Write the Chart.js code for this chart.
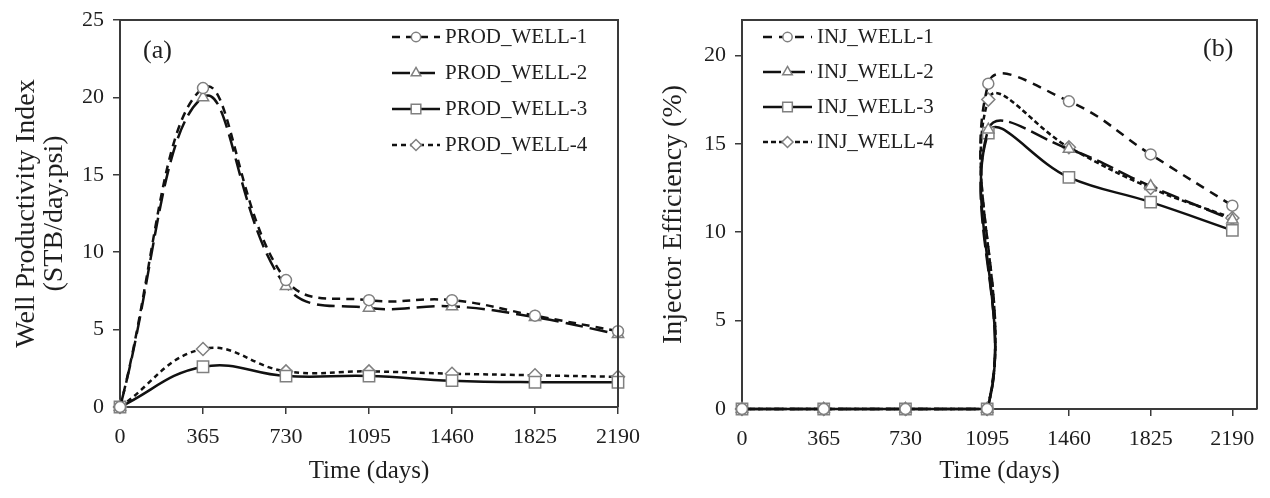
<!DOCTYPE html>
<html>
<head>
<meta charset="utf-8">
<script src="https://cdn.jsdelivr.net/npm/chart.js@4.4.1/dist/chart.umd.min.js"></script>
<style>
  html, body { margin: 0; padding: 0; background: #fff; }
  #wrap { width: 1270px; height: 498px; display: flex; }
  canvas { display: block; }
</style>
</head>
<body>
<div id="wrap">
  <canvas id="prod" width="650" height="498"></canvas>
  <canvas id="inj" width="620" height="498"></canvas>
</div>
<script>
// x values (days)
const dayTicks = [0, 365, 730, 1095, 1460, 1825, 2190];
const prodDays = [0, 365, 730, 1095, 1460, 1825, 2190];
const injDays = [0, 365, 730, 1095, 1100, 1460, 1825, 2190];

// (a) productivity index, STB/day.psi
const prodWell1 = [0, 20.6, 8.2, 6.9, 6.9, 5.9, 4.9];
const prodWell2 = [0, 20.0, 7.8, 6.4, 6.5, 5.8, 4.7];
const prodWell3 = [0, 2.6, 2.0, 2.0, 1.7, 1.6, 1.6];
const prodWell4 = [0, 3.75, 2.3, 2.3, 2.15, 2.05, 1.95];

// (b) injector efficiency, %
const injWell1 = [0, 0, 0, 0, 18.4, 17.4, 14.4, 11.5];
const injWell2 = [0, 0, 0, 0, 15.8, 14.7, 12.6, 10.7];
const injWell3 = [0, 0, 0, 0, 15.6, 13.1, 11.7, 10.1];
const injWell4 = [0, 0, 0, 0, 17.5, 14.8, 12.5, 10.8];

const prodTicksY = [0, 5, 10, 15, 20, 25];
const injTicksY = [0, 5, 10, 15, 20];

const FONT = "'Liberation Serif', 'Times New Roman', serif";
const TXT = '#1e1e1e';
const AXIS = '#3a3a3a';
const MARK = '#808080';

function pts(xs, ys) {
  return xs.map((x, i) => ({ x: x, y: ys[i] }));
}

function series(label, xs, ys, style, radius, dash) {
  return {
    label: label,
    data: pts(xs, ys),
    borderColor: '#111',
    borderWidth: 2.5,
    borderDash: dash,
    tension: 0.42,
    pointStyle: style,
    pointRadius: radius,
    pointBackgroundColor: '#fff',
    pointBorderColor: MARK,
    pointBorderWidth: 1.5,
    clip: false
  };
}

// box around the plot + legend + panel letter
const panelPlugin = {
  id: 'panel',
  afterDraw(chart, args, o) {
    const ctx = chart.ctx;
    const a = chart.chartArea;
    ctx.save();
    ctx.strokeStyle = AXIS;
    ctx.lineWidth = 2;
    ctx.beginPath();
    ctx.moveTo(a.left, a.top); ctx.lineTo(a.right, a.top); ctx.lineTo(a.right, a.bottom);
    ctx.stroke();

    ctx.font = '21px ' + FONT;
    ctx.textBaseline = 'middle';
    chart.data.datasets.forEach((ds, i) => {
      const y = o.y + i * o.gap;
      ctx.strokeStyle = ds.borderColor;
      ctx.lineWidth = ds.borderWidth;
      ctx.setLineDash(ds.borderDash || []);
      ctx.beginPath(); ctx.moveTo(o.x, y); ctx.lineTo(o.x + o.len, y); ctx.stroke();
      ctx.setLineDash([]);
      ctx.fillStyle = '#fff';
      ctx.strokeStyle = MARK;
      ctx.lineWidth = 1.5;
      Chart.helpers.drawPoint(ctx, { pointStyle: ds.pointStyle, radius: ds.pointRadius * 0.85, rotation: 0, borderWidth: 1.5 }, o.x + o.len / 2, y);
      ctx.fillStyle = TXT;
      ctx.fillText(ds.label, o.x + o.len + 5, y);
    });

    ctx.font = '26px ' + FONT;
    ctx.fillStyle = TXT;
    ctx.fillText(o.letter, o.lx, o.ly);
    ctx.restore();
  }
};

function makeChart(el, datasets, cfg) {
  return new Chart(document.getElementById(el), {
    type: 'line',
    data: { datasets: datasets },
    plugins: [panelPlugin],
    options: {
      responsive: false,
      animation: false,
      layout: { padding: { top: 20, right: cfg.padRight, left: 0, bottom: 0 } },
      plugins: {
        legend: { display: false },
        tooltip: { enabled: false },
        panel: cfg.panel
      },
      scales: {
        x: {
          type: 'linear',
          min: 0,
          max: cfg.xMax,
          afterBuildTicks: s => { s.ticks = dayTicks.map(v => ({ value: v })); },
          afterFit: s => { s.height = cfg.xH; s.paddingLeft = 0; s.paddingRight = 0; },
          grid: { drawOnChartArea: false, drawTicks: true, tickLength: 7, color: AXIS, lineWidth: 1.5 },
          border: { display: true, color: AXIS, width: 2 },
          ticks: { font: { family: FONT, size: 22 }, color: TXT, padding: 10, maxRotation: 0, autoSkip: false, callback: v => String(v) },
          title: { display: true, text: 'Time (days)', color: TXT, font: { family: FONT, size: 25 }, padding: { bottom: 12 } }
        },
        y: {
          min: 0,
          max: cfg.yMax,
          afterBuildTicks: s => { s.ticks = cfg.yTicks.map(v => ({ value: v })); },
          afterFit: s => { s.width = cfg.yW; s.paddingTop = 0; s.paddingBottom = 0; },
          grid: { drawOnChartArea: false, drawTicks: true, tickLength: 7, color: AXIS, lineWidth: 1.5 },
          border: { display: true, color: AXIS, width: 2 },
          ticks: { font: { family: FONT, size: 22 }, color: TXT, padding: 9, callback: v => String(v) },
          title: { display: true, text: cfg.yTitle, color: TXT, font: { family: FONT, size: 28, lineHeight: 1.0 }, padding: { top: cfg.yTitlePad } }
        }
      }
    }
  });
}

const prodChart = makeChart('prod', [
  series('PROD_WELL-1', prodDays, prodWell1, 'circle', 5.5, [8, 6]),
  series('PROD_WELL-2', prodDays, prodWell2, 'triangle', 6.5, [18, 7]),
  series('PROD_WELL-3', prodDays, prodWell3, 'rect', 8, []),
  series('PROD_WELL-4', prodDays, prodWell4, 'rectRot', 6.5, [5, 4])
], {
  xMax: 2190, yMax: 25, yTicks: prodTicksY, xH: 91, yW: 120, padRight: 32,
  yTitle: ['Well Productivity Index', '(STB/day.psi)'], yTitlePad: 13,
  panel: { x: 392, y: 37, gap: 36, len: 48, letter: '(a)', lx: 143, ly: 51 }
});

const injChart = makeChart('inj', [
  series('INJ_WELL-1', injDays, injWell1, 'circle', 5.5, [9, 7]),
  series('INJ_WELL-2', injDays, injWell2, 'triangle', 6.5, [18, 6]),
  series('INJ_WELL-3', injDays, injWell3, 'rect', 8, []),
  series('INJ_WELL-4', injDays, injWell4, 'rectRot', 6.5, [5, 3])
], {
  xMax: 2300, yMax: 22, yTicks: injTicksY, xH: 89, yW: 92, padRight: 13,
  yTitle: 'Injector Efficiency (%)', yTitlePad: 10,
  panel: { x: 113, y: 37, gap: 35, len: 49, letter: '(b)', lx: 553, ly: 49 }
});
</script>
</body>
</html>
